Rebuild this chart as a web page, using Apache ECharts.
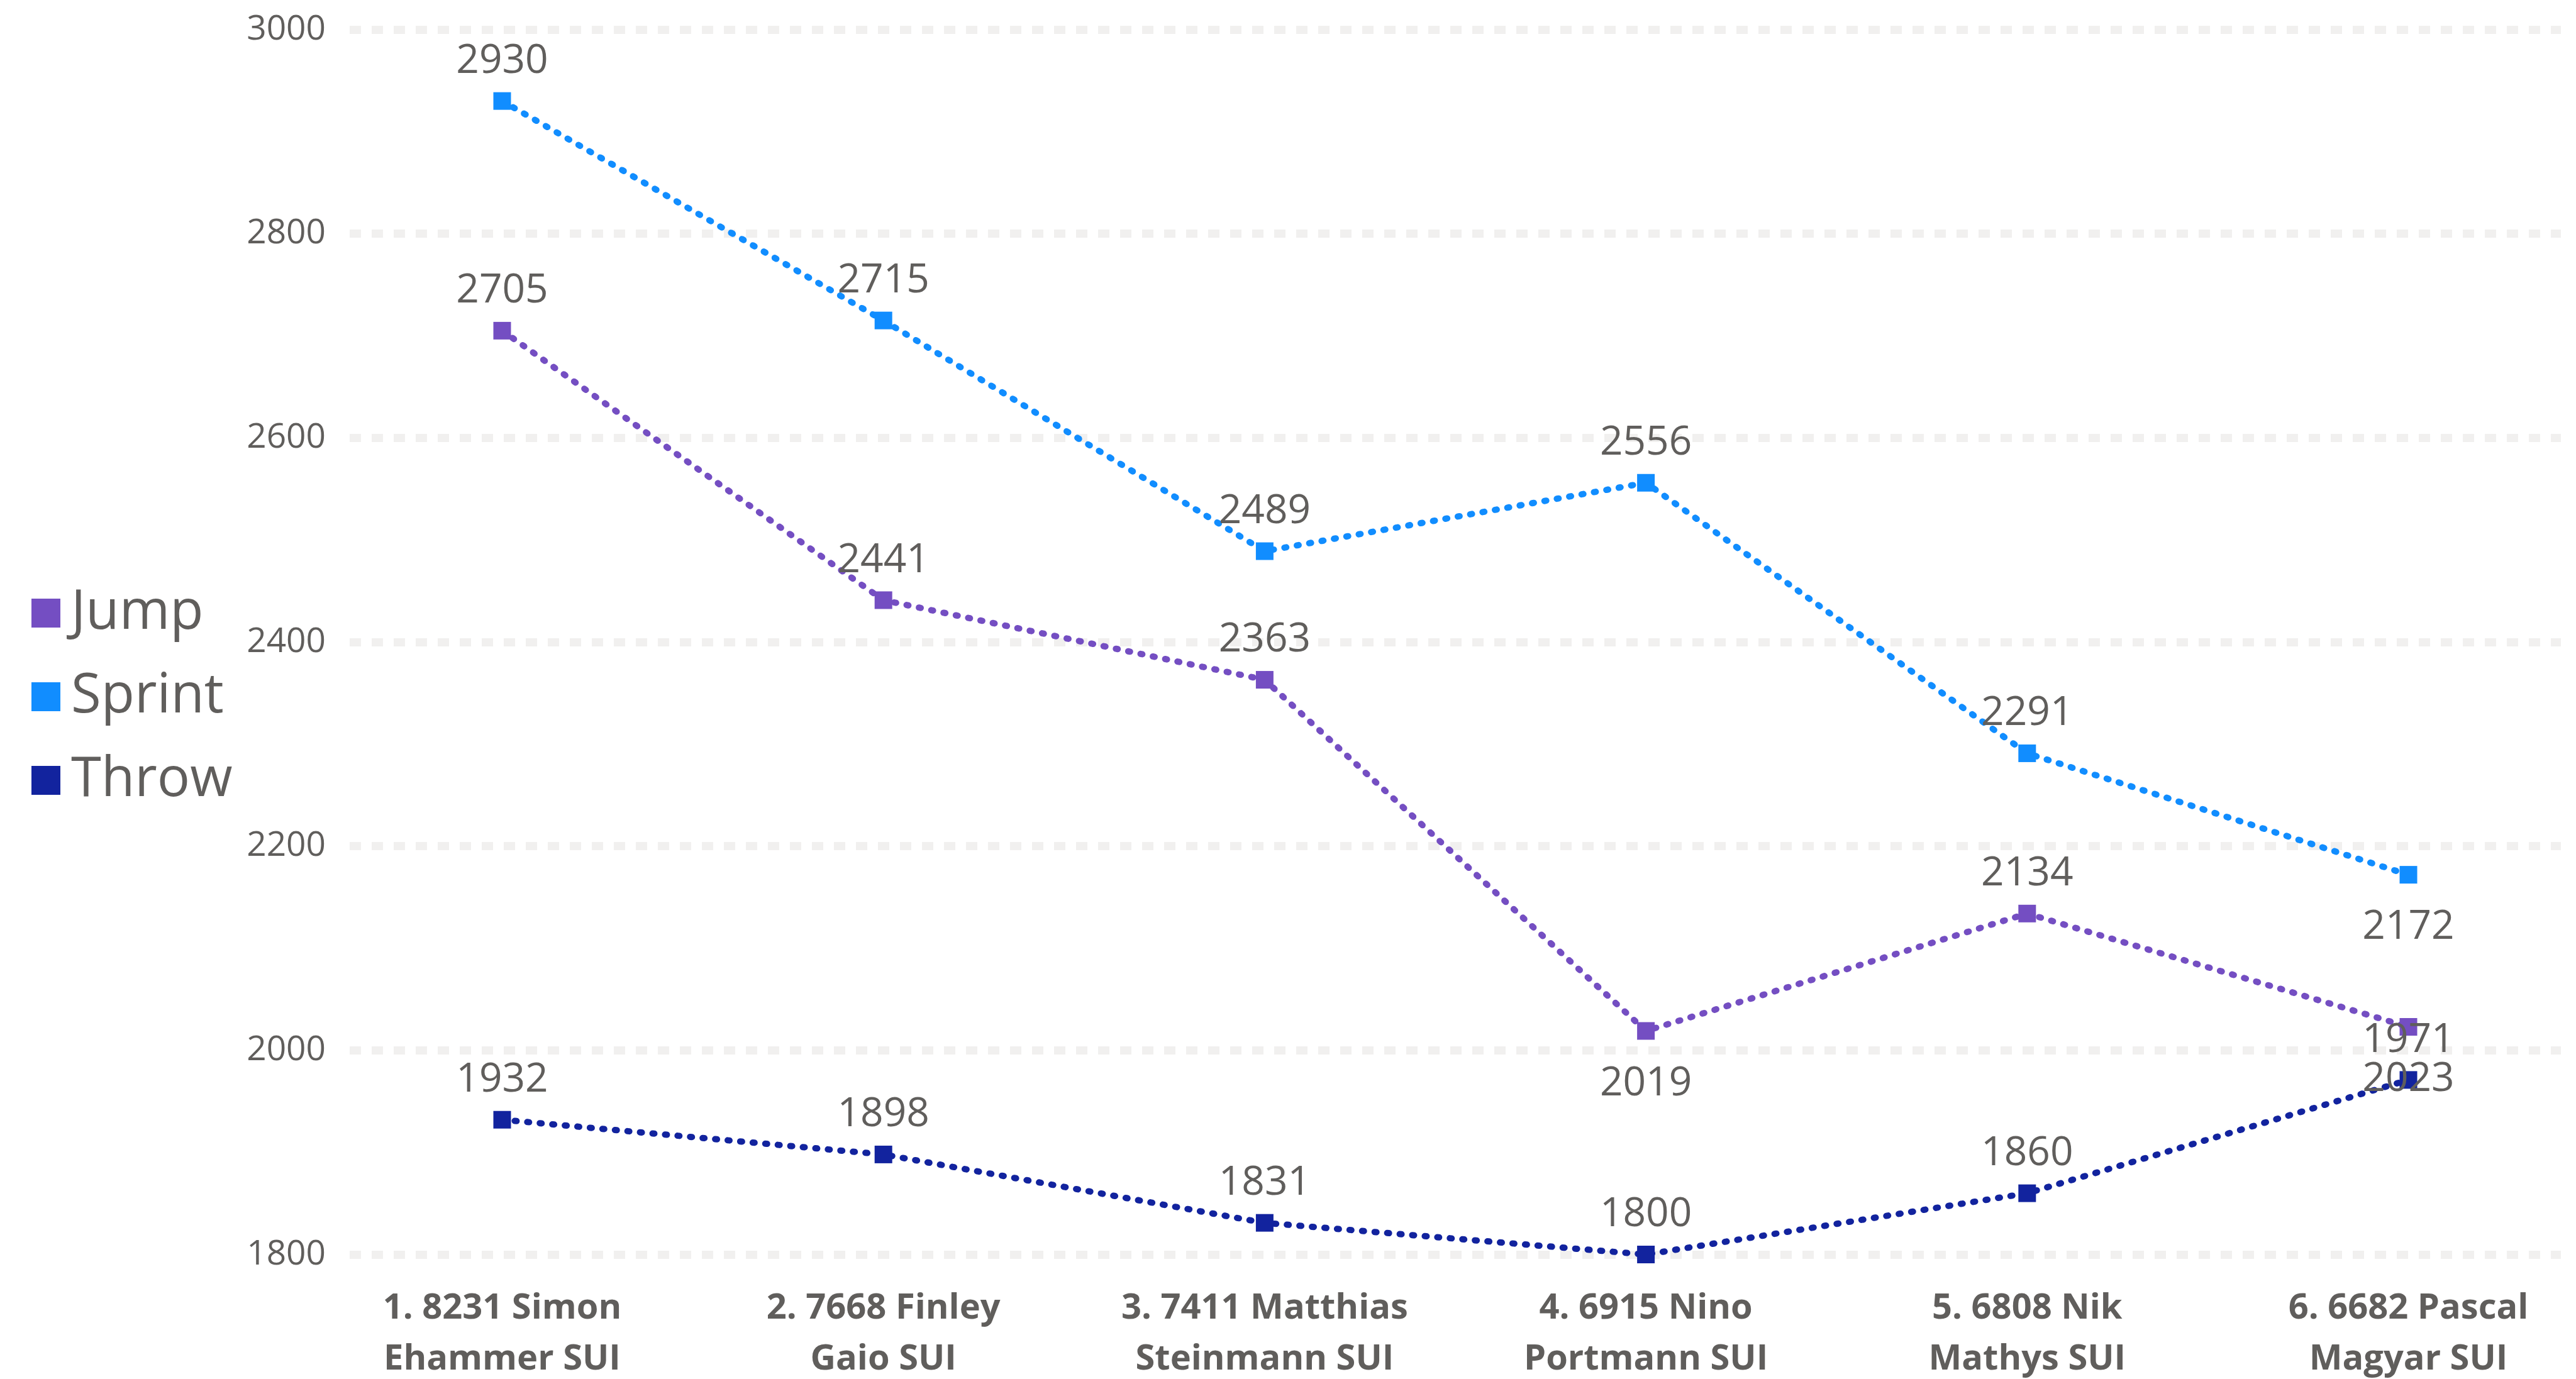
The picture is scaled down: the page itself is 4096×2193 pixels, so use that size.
<!DOCTYPE html>
<html>
<head>
    <meta charset="UTF-8">
    <title>Decathlon</title>
    <script src="https://cdn.jsdelivr.net/npm/echarts@6/dist/echarts.min.js"></script>
    <style>
        html, body {margin:0; padding:0; background:#fff;}
        #main {width:4096px; height:2193px;}
    </style>
</head>
<body>
<div id="main"></div>
<script>
    var athletes = [
        '1. 8231 Simon\nEhammer SUI',
        '2. 7668 Finley\nGaio SUI',
        '3. 7411 Matthias\nSteinmann SUI',
        '4. 6915 Nino\nPortmann SUI',
        '5. 6808 Nik\nMathys SUI',
        '6. 6682 Pascal\nMagyar SUI'
    ];
    var jump   = [2705, 2441, 2363, 2019, 2134, 2023];
    var sprint = [2930, 2715, 2489, 2556, 2291, 2172];
    var throwPts = [1932, 1898, 1831, 1800, 1860, 1971];
    var yTicks = [1800, 2000, 2200, 2400, 2600, 2800, 3000];

    var grey = '#605E5C';
    var font = '"Open Sans", "Noto Sans", sans-serif';

    // points whose label sits under the marker
    function pts(values, below) {
        return values.map(function (v, i) {
            var p = {value: [i, v]};
            if (below.indexOf(i) >= 0) {
                p.label = {position: 'bottom', distance: 38};
            }
            return p;
        });
    }

    function line(name, color, values, below) {
        return {
            name: name,
            type: 'line',
            data: pts(values, below),
            symbol: 'rect',
            symbolSize: 28,
            itemStyle: {color: color},
            lineStyle: {color: color, width: 10, type: [3, 17], cap: 'round'},
            label: {
                show: true,
                position: 'top',
                distance: 17,
                color: grey,
                fontFamily: font,
                fontSize: 64,
                formatter: function (p) { return p.value[1]; }
            },
            labelLayout: {hideOverlap: false},
            emphasis: {disabled: true},
            animation: false
        };
    }

    var myChart = echarts.init(document.getElementById('main'));
    var option = {
        backgroundColor: '#fff',
        textStyle: {fontFamily: font},
        legend: {
            orient: 'vertical',
            left: 45,
            top: 926,
            itemWidth: 46,
            itemHeight: 46,
            itemGap: 45,
            icon: 'rect',
            textStyle: {color: grey, fontSize: 87, lineHeight: 88, fontFamily: font, padding: [0, 0, 0, 12]},
            data: ['Jump', 'Sprint', 'Throw']
        },
        grid: {left: 556, right: 24, top: 47, bottom: 198, outerBoundsMode: 'none'},
        xAxis: {
            type: 'value',
            min: -0.4,
            max: 5.4,
            axisLine: {show: false},
            axisTick: {show: false},
            splitLine: {show: false},
            axisLabel: {
                customValues: [0, 1, 2, 3, 4, 5],
                formatter: function (v) { return athletes[Math.round(v)]; },
                color: grey,
                fontFamily: font,
                fontWeight: 'bold',
                fontSize: 56,
                lineHeight: 81,
                margin: 46
            }
        },
        yAxis: {
            type: 'value',
            min: yTicks[0],
            max: yTicks[yTicks.length - 1],
            interval: 200,
            axisLine: {show: false},
            axisTick: {show: false},
            axisLabel: {
                color: grey,
                fontFamily: font,
                fontSize: 55,
                margin: 38,
                formatter: function (v) { return String(v); }
            },
            splitLine: {lineStyle: {color: '#F1F0EF', width: 13, type: [18, 17]}}
        },
        series: [
            line('Jump', '#744EC2', jump, [3, 5]),
            line('Sprint', '#118DFF', sprint, [5]),
            line('Throw', '#12239E', throwPts, [])
        ]
    };
    myChart.setOption(option);
</script>
</body>
</html>
